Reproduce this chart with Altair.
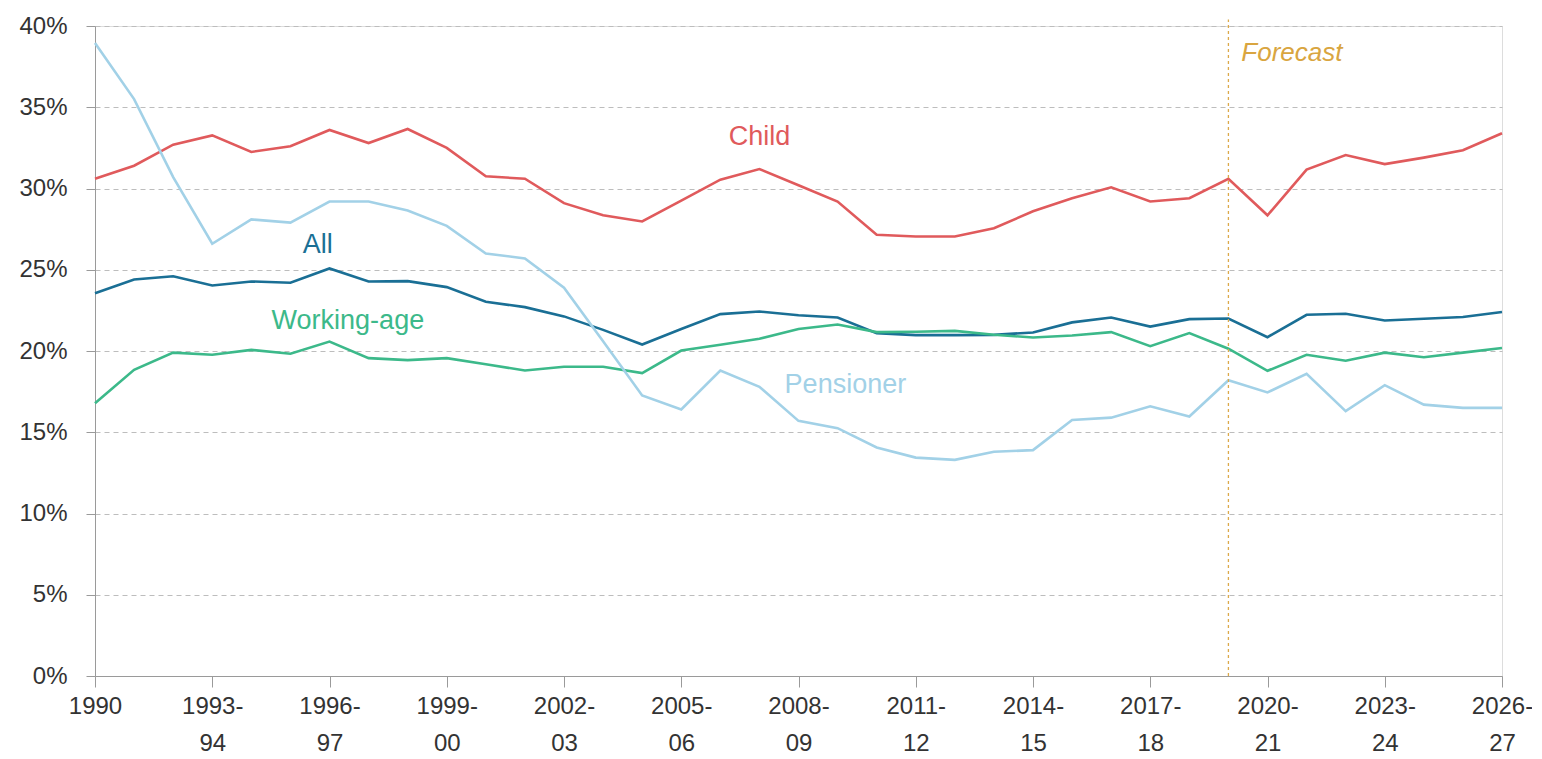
import json
import altair as alt
import pandas as pd

periods = ["1990"] + [f"{y}-{str(y + 1)[-2:]}" for y in range(1991, 2027)]

child = [30.6, 31.4, 32.7, 33.27, 32.25, 32.6, 33.6, 32.8, 33.66, 32.5, 30.75, 30.6,
         29.1, 28.35, 27.97, 29.25, 30.54, 31.2, 30.2, 29.2, 27.15, 27.05, 27.05, 27.55,
         28.6, 29.4, 30.07, 29.2, 29.4, 30.6, 28.35, 31.16, 32.06, 31.5, 31.9, 32.35, 33.4]
all_people = [23.56, 24.4, 24.6, 24.03, 24.28, 24.2, 25.08, 24.28, 24.3, 23.93, 23.03, 22.7,
              22.13, 21.3, 20.4, 21.35, 22.27, 22.43, 22.2, 22.06, 21.1, 20.98, 20.98, 20.99,
              21.14, 21.76, 22.06, 21.5, 21.96, 22.0, 20.85, 22.23, 22.29, 21.88, 21.98, 22.09, 22.4]
working_age = [16.79, 18.84, 19.9, 19.77, 20.07, 19.83, 20.58, 19.56, 19.44, 19.56, 19.19, 18.8,
               19.03, 19.03, 18.64, 20.03, 20.38, 20.75, 21.35, 21.63, 21.16, 21.18, 21.24, 21.0,
               20.83, 20.95, 21.16, 20.3, 21.1, 20.14, 18.78, 19.77, 19.4, 19.9, 19.62, 19.9, 20.18]
pensioner = [38.96, 35.5, 30.7, 26.6, 28.1, 27.9, 29.2, 29.2, 28.65, 27.7, 26.0, 25.7,
             23.9, 20.6, 17.26, 16.4, 18.8, 17.8, 15.7, 15.25, 14.06, 13.44, 13.3, 13.8,
             13.9, 15.76, 15.9, 16.6, 15.97, 18.2, 17.45, 18.6, 16.3, 17.9, 16.7, 16.5, 16.5]

series_names = ["Child", "All", "Working-age", "Pensioner"]
series_colors = ["#e05a5c", "#1a6f95", "#3cb98a", "#a2d1e7"]
series_values = [child, all_people, working_age, pensioner]

forecast_index = 29
tick_positions = list(range(0, 37, 3))

# annotation labels (text, x index, y percent)
label_text = ["Child", "All", "Working-age", "Pensioner"]
label_x = [17.0, 5.7, 6.47, 19.2]
label_y = [33.2, 26.5, 21.86, 17.9]

rows = []
for name, vals in zip(series_names, series_values):
    for i, v in enumerate(vals):
        rows.append({"series": name, "idx": i, "period": periods[i], "value": v})
df = pd.DataFrame(rows)

labels_df = pd.DataFrame({"text": label_text, "x": label_x, "y": label_y})

# build x tick label expression: two-line labels for "YYYY-YY"
parts = []
for p in periods:
    if "-" in p:
        a, b = p.split("-")
        parts.append([a + "-", b])
    else:
        parts.append(p)
label_expr = json.dumps(parts) + "[datum.value]"

FONT = "Liberation Sans"

x_scale = alt.Scale(domain=[0, 36], nice=False, zero=False)
y_scale = alt.Scale(domain=[0, 40], nice=False)

lines = alt.Chart(df).mark_line(strokeWidth=2.6).encode(
    x=alt.X("idx:Q", scale=x_scale, title=None,
            axis=alt.Axis(values=tick_positions, labelExpr=label_expr, grid=False,
                          domainColor="#9a9a9a", tickColor="#9a9a9a", tickSize=11,
                          labelFontSize=24, labelFont=FONT, labelColor="#333333",
                          labelPadding=7, labelLineHeight=37, labelBaseline="top",
                          labelFlush=False, labelOverlap=False)),
    y=alt.Y("value:Q", scale=y_scale, title=None,
            axis=alt.Axis(values=list(range(0, 41, 5)), labelExpr="datum.value + '%'",
                          grid=True, gridColor="#bdbdbd", gridDash=[5, 4], gridWidth=1,
                          domainColor="#9a9a9a", tickColor="#9a9a9a", tickSize=9,
                          labelFontSize=24, labelFont=FONT, labelColor="#333333",
                          labelPadding=19)),
    color=alt.Color("series:N", scale=alt.Scale(domain=series_names, range=series_colors),
                    legend=None),
    detail="series:N",
)

forecast_rule = alt.Chart(pd.DataFrame({"x": [forecast_index], "y": [0], "y2": [40.4]})).mark_rule(
    color="#dca94a", strokeDash=[3, 3], strokeWidth=1.3
).encode(x=alt.X("x:Q", scale=x_scale), y=alt.Y("y:Q", scale=y_scale), y2="y2:Q")

forecast_text = alt.Chart(pd.DataFrame({"x": [forecast_index + 0.33], "y": [38.36], "t": ["Forecast"]})).mark_text(
    align="left", baseline="middle", fontSize=26, fontStyle="italic", font=FONT, color="#d9a540"
).encode(x=alt.X("x:Q", scale=x_scale), y=alt.Y("y:Q", scale=y_scale), text="t:N")

texts = alt.Chart(labels_df).mark_text(
    align="center", baseline="middle", fontSize=27, font=FONT
).encode(
    x=alt.X("x:Q", scale=x_scale),
    y=alt.Y("y:Q", scale=y_scale),
    text="text:N",
    color=alt.Color("text:N", scale=alt.Scale(domain=series_names, range=series_colors), legend=None),
)

chart = alt.layer(lines, forecast_rule, forecast_text, texts).properties(
    width=1407, height=650,
    autosize=alt.AutoSizeParams(type="none"),
    padding={"left": 87, "top": 18, "right": 30, "bottom": 81},
).configure_view(stroke=None).configure(background="white")

chart.save("out.html", embed_options={"renderer": "svg", "actions": False})
